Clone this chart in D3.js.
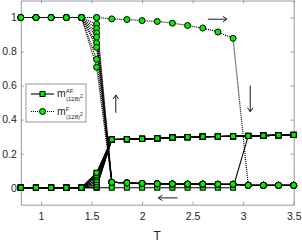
<!DOCTYPE html>
<html>
<head>
<meta charset="utf-8">
<script src="https://cdn.jsdelivr.net/npm/d3@7"></script>
<style>
  body { margin: 0; background: #fff; }
  text { font-family: "Liberation Sans", Arial, sans-serif; }
</style>
</head>
<body>
<div id="chart"></div>
<script>
var width = 302,
    height = 242;

// temperature grid
var temps = [0.8, 0.95, 1.1, 1.25, 1.4, 1.55, 1.7, 1.85, 2.0, 2.15, 2.3, 2.45, 2.6, 2.75, 2.9, 3.05, 3.2, 3.35, 3.5];

// heating run
var afHeat = [0, 0, 0, 0, 0, 0, 0, 0, 0, 0, 0, 0, 0, 0, 0, 0.304, 0.306, 0.308, 0.31];
var fHeat = [1, 1, 1, 1, 1, 1, 0.992, 0.988, 0.982, 0.977, 0.967, 0.953, 0.938, 0.915, 0.878, 0.014, 0.014, 0.014, 0.014];

// cooling run (value at T=1.55 comes from the fan arrays below)
var afCool = [0, 0, 0, 0, 0, null, 0.283, 0.285, 0.287, 0.29, 0.295, 0.297, 0.3, 0.301, 0.302, 0.304, 0.306, 0.308, 0.31];
var fCool = [1, 1, 1, 1, 1, null, 0.032, 0.028, 0.025, 0.023, 0.022, 0.021, 0.021, 0.02, 0.02, 0.014, 0.014, 0.014, 0.014];

// the cooling runs split at T=1.55
var afFan = [0, 0.005, 0.018, 0.032, 0.045, 0.061, 0.072, 0.085, 0.088];
var fFan = [1, 0.961, 0.936, 0.909, 0.885, 0.85, 0.825, 0.754, 0.708];

var xTicks = [1, 1.5, 2, 2.5, 3, 3.5];
var yTicks = [0, 0.2, 0.4, 0.6, 0.8, 1];

var margin = {top: 0.5, left: 20.8, right: 8.3, bottom: 37.3};

var svg = d3.select("#chart")
    .append("svg")
    .attr("width", width)
    .attr("height", height);

var x = d3.scaleLinear().domain([0.8, 3.5]).range([margin.left, width - margin.right]);
var y = d3.scaleLinear().domain([-0.1, 1.1]).range([height - margin.bottom, margin.top]);

var axisColor = "#808080",
    labelColor = "#262626",
    green = "#00f000";

// axes + box
svg.append("g")
    .attr("transform", "translate(0," + y.range()[0] + ")")
    .call(d3.axisBottom(x).tickValues(xTicks).tickSizeInner(-3).tickSizeOuter(0).tickPadding(8).tickFormat(d3.format("")));
svg.append("g")
    .attr("transform", "translate(" + x.range()[0] + ",0)")
    .call(d3.axisLeft(y).tickValues(yTicks).tickSizeInner(-3).tickSizeOuter(0).tickPadding(4).tickFormat(d3.format("")));
svg.append("g")
    .attr("transform", "translate(0," + y.range()[1] + ")")
    .call(d3.axisTop(x).tickValues(xTicks).tickSizeInner(-3).tickSizeOuter(0).tickFormat(""));
svg.append("g")
    .attr("transform", "translate(" + x.range()[1] + ",0)")
    .call(d3.axisRight(y).tickValues(yTicks).tickSizeInner(-3).tickSizeOuter(0).tickFormat(""));

svg.selectAll(".domain, .tick line").attr("stroke", axisColor).attr("stroke-width", 0.8);
svg.selectAll(".tick text")
    .attr("fill", labelColor)
    .style("font-size", "10.5px")
    .style("font-family", "'Liberation Sans', Arial, sans-serif");

svg.append("text")
    .attr("x", (x.range()[0] + x.range()[1]) / 2)
    .attr("y", 240)
    .attr("text-anchor", "middle")
    .attr("fill", labelColor)
    .style("font-size", "12px")
    .text("T");

// build the runs
var runs = [{af: afHeat, f: fHeat}];
afFan.forEach(function (a, i) {
    runs.push({
        af: afCool.map(function (v) { return v === null ? a : v; }),
        f: fCool.map(function (v) { return v === null ? fFan[i] : v; })
    });
});

var line = d3.line()
    .x(function (d, i) { return x(temps[i]); })
    .y(function (d) { return y(d); });

var plot = svg.append("g");

runs.forEach(function (r) {
    plot.append("path")
        .attr("d", line(r.af))
        .attr("fill", "none")
        .attr("stroke", "#000")
        .attr("stroke-width", 1.1);
    plot.append("path")
        .attr("d", line(r.f))
        .attr("fill", "none")
        .attr("stroke", "#000")
        .attr("stroke-width", 1.2)
        .attr("stroke-dasharray", "1,1");
});

runs.forEach(function (r) {
    plot.selectAll(null)
        .data(r.af)
        .enter().append("rect")
        .attr("x", function (d, i) { return x(temps[i]) - 2.5; })
        .attr("y", function (d) { return y(d) - 2.5; })
        .attr("width", 5)
        .attr("height", 5)
        .attr("fill", green)
        .attr("stroke", "#000")
        .attr("stroke-width", 1);
    plot.selectAll(null)
        .data(r.f)
        .enter().append("circle")
        .attr("cx", function (d, i) { return x(temps[i]); })
        .attr("cy", function (d) { return y(d); })
        .attr("r", 3)
        .attr("fill", green)
        .attr("stroke", "#000")
        .attr("stroke-width", 1);
});

// direction arrows
function arrow(x1, y1, x2, y2) {
    var g = svg.append("g").attr("stroke", "#1a1a1a").attr("stroke-width", 1).attr("fill", "none");
    g.append("line").attr("x1", x1).attr("y1", y1).attr("x2", x2).attr("y2", y2);
    var ang = Math.atan2(y2 - y1, x2 - x1), h = 5;
    var p = [
        [x2 - h * Math.cos(ang - 0.6), y2 - h * Math.sin(ang - 0.6)],
        [x2, y2],
        [x2 - h * Math.cos(ang + 0.6), y2 - h * Math.sin(ang + 0.6)]
    ];
    g.append("path").attr("d", d3.line()(p));
}
arrow(x(2.65), y(0.99), x(2.84), y(0.99));
arrow(x(3.07), y(0.6), x(3.07), y(0.446));
arrow(x(1.74), y(0.44), x(1.74), y(0.545));
arrow(x(2.35), y(-0.06), x(2.16), y(-0.06));

// legend
var legend = svg.append("g").attr("transform", "translate(26,84)");
legend.append("rect")
    .attr("width", 60).attr("height", 38)
    .attr("fill", "#fff").attr("stroke", axisColor).attr("stroke-width", 0.8);

var rows = [{sup: "AF", dash: null, shape: "rect"}, {sup: "F", dash: "1,1", shape: "circle"}];
rows.forEach(function (r, i) {
    var cy = 10 + i * 17.5;
    legend.append("line")
        .attr("x1", 5).attr("x2", 28).attr("y1", cy).attr("y2", cy)
        .attr("stroke", "#000").attr("stroke-width", 1.1)
        .attr("stroke-dasharray", r.dash);
    if (r.shape === "rect") {
        legend.append("rect").attr("x", 14).attr("y", cy - 2.5).attr("width", 5).attr("height", 5)
            .attr("fill", green).attr("stroke", "#000");
    } else {
        legend.append("circle").attr("cx", 16.5).attr("cy", cy).attr("r", 3)
            .attr("fill", green).attr("stroke", "#000");
    }
    var t = legend.append("text")
        .attr("x", 31).attr("y", cy + 3)
        .attr("fill", labelColor)
        .style("font-size", "10.5px");
    t.append("tspan").text("m");
    t.append("tspan").attr("dy", -4).style("font-size", "6px").text(r.sup);
    t.append("tspan").attr("x", 40).attr("dy", 8).style("font-size", "6px").text("(128)");
    t.append("tspan").attr("dy", -3).style("font-size", "5px").text("2");
});
</script>
</body>
</html>
